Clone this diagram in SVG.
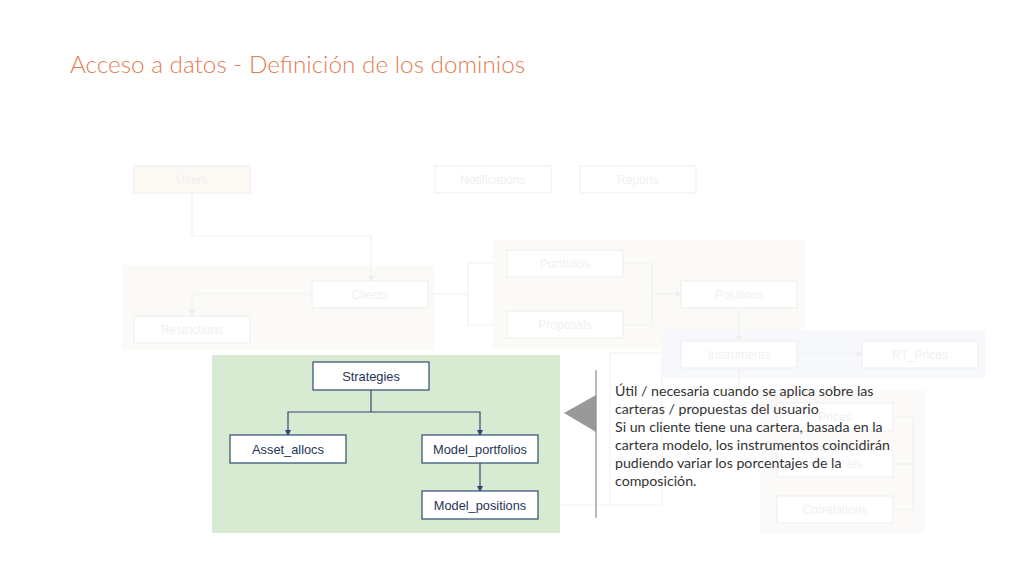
<svg xmlns="http://www.w3.org/2000/svg" width="1024" height="576" viewBox="0 0 1024 576">
<style>
.title{font-family:Lato,"Open Sans",sans-serif;font-weight:300;font-size:24.3px;fill:#E27D55}
.fbox{fill:#ffffff;stroke:#f0f0f0;stroke-width:1.2}
.ftxt{font-family:"Liberation Sans",Arial,sans-serif;font-size:12px;fill:#f0f0f0;text-anchor:middle}
.fline{fill:none;stroke:#f1f1f1;stroke-width:1.2}
.box{fill:#ffffff;stroke:#2e4a74;stroke-width:1.2}
.txt{font-family:"Liberation Sans",Arial,sans-serif;font-size:12.8px;fill:#1f3556;text-anchor:middle}
.conn{fill:none;stroke:#2e4a74;stroke-width:1.2}
.note{font-family:Lato,"Open Sans",sans-serif;font-size:14.2px;fill:#333333}
</style>
<defs>
<marker id="ah" markerWidth="6" markerHeight="6" refX="5" refY="3" orient="auto" markerUnits="userSpaceOnUse">
<path d="M0,0 L6,3 L0,6 z" fill="#2e4a74"/>
</marker>
<marker id="fah" markerWidth="6" markerHeight="6" refX="5" refY="3" orient="auto" markerUnits="userSpaceOnUse">
<path d="M0,0 L6,3 L0,6 z" fill="#eeeeee"/>
</marker>
</defs>
<rect width="1024" height="576" fill="#ffffff"/>
<text class="title" x="70" y="73">Acceso a datos - Definición de los dominios</text>

<!-- faded background groups -->
<g id="bg-groups">
<rect x="123" y="265" width="312" height="85" fill="#fbfaf6"/>
<rect x="493" y="240" width="312" height="108" fill="#fbfaf6"/>
<rect x="662" y="330" width="323" height="48" fill="#f6f8fc"/>
<rect x="760" y="390" width="165" height="143" fill="#fbfaf8"/>
<rect x="610" y="353" width="52" height="152" fill="#ffffff" stroke="#f2f2f2"/>
</g>

<g id="faded-connectors">
<polyline class="fline" points="192,193 192,236 371,236 371,281" marker-end="url(#fah)"/>
<polyline class="fline" points="312,294 192,294 192,315" marker-end="url(#fah)"/>
<polyline class="fline" points="428,294 468,294"/>
<polyline class="fline" points="493,263 468,263 468,325 493,325"/>
<polyline class="fline" points="623,263 652,263 652,325 623,325"/>
<polyline class="fline" points="652,294 681,294" marker-end="url(#fah)"/>
<polyline class="fline" points="739,308 739,341" marker-end="url(#fah)"/>
<polyline class="fline" points="797,354 862,354" marker-end="url(#fah)"/>
<polyline class="fline" points="739,368 739,385"/>
<polyline class="fline" points="893,417 913,417 913,510 893,510"/>
<polyline class="fline" points="893,464 913,464"/>
<polyline class="fline" points="560,505 610,505"/>
</g>

<g id="node-users"><rect class="fbox" x="134" y="166" width="116" height="27" style="fill:#fcf9f4"/><text class="ftxt" x="192" y="184">Users</text></g>
<g id="node-notifications"><rect class="fbox" x="435" y="166" width="116" height="27"/><text class="ftxt" x="493" y="184">Notifications</text></g>
<g id="node-reports"><rect class="fbox" x="580" y="166" width="116" height="27"/><text class="ftxt" x="638" y="184">Reports</text></g>
<g id="node-clients"><rect class="fbox" x="312" y="281" width="116" height="27"/><text class="ftxt" x="370" y="299">Clients</text></g>
<g id="node-restrictions"><rect class="fbox" x="134" y="316" width="116" height="27"/><text class="ftxt" x="192" y="334">Restrictions</text></g>
<g id="node-portfolios"><rect class="fbox" x="507" y="250" width="116" height="27"/><text class="ftxt" x="565" y="268">Portfolios</text></g>
<g id="node-proposals"><rect class="fbox" x="507" y="311" width="116" height="27"/><text class="ftxt" x="565" y="329">Proposals</text></g>
<g id="node-positions"><rect class="fbox" x="681" y="281" width="116" height="27"/><text class="ftxt" x="739" y="299">Positions</text></g>
<g id="node-instruments"><rect class="fbox" x="681" y="341" width="116" height="27"/><text class="ftxt" x="739" y="359">Instruments</text></g>
<g id="node-rtprices"><rect class="fbox" x="862" y="341" width="116" height="27"/><text class="ftxt" x="920" y="359">RT_Prices</text></g>
<g id="node-prices"><rect class="fbox" x="777" y="403" width="116" height="28"/><text class="ftxt" x="835" y="421">Prices</text></g>
<g id="node-ies"><rect class="fbox" x="777" y="450" width="116" height="27"/><text class="ftxt" x="847" y="468" style="text-anchor:start">ies</text></g>
<g id="node-correlations"><rect class="fbox" x="777" y="496" width="116" height="27"/><text class="ftxt" x="835" y="514">Correlations</text></g>

<!-- green panel -->
<rect id="panel" x="212" y="355" width="348" height="178" fill="#d9ead3"/>

<g id="connectors">
<polyline class="conn" points="371,390 371,412"/>
<polyline class="conn" points="371,412 288,412 288,435" marker-end="url(#ah)"/>
<polyline class="conn" points="371,412 480,412 480,435" marker-end="url(#ah)"/>
<polyline class="conn" points="480,463 480,491" marker-end="url(#ah)"/>
</g>

<g id="node-strategies"><rect class="box" x="313" y="362" width="116" height="28"/><text class="txt" x="371" y="381">Strategies</text></g>
<g id="node-asset-allocs"><rect class="box" x="230" y="435" width="116" height="28"/><text class="txt" x="288" y="454">Asset_allocs</text></g>
<g id="node-model-portfolios"><rect class="box" x="422" y="435" width="116" height="28"/><text class="txt" x="480" y="454">Model_portfolios</text></g>
<g id="node-model-positions"><rect class="box" x="422" y="491" width="116" height="28"/><text class="txt" x="480" y="510">Model_positions</text></g>

<g id="callout">
<polygon points="564,413 596,395 596,432" fill="#999999"/>
<line x1="596" y1="370" x2="596" y2="518" stroke="#8a8a8a" stroke-width="1.2"/>
<text class="note" x="615" y="396">Útil / necesaria cuando se aplica sobre las</text>
<text class="note" x="615" y="414">carteras / propuestas del usuario</text>
<text class="note" x="615" y="432">Si un cliente tiene una cartera, basada en la</text>
<text class="note" x="615" y="450">cartera modelo, los instrumentos coincidirán</text>
<text class="note" x="615" y="468">pudiendo variar los porcentajes de la</text>
<text class="note" x="615" y="486">composición.</text>
</g>
</svg>
